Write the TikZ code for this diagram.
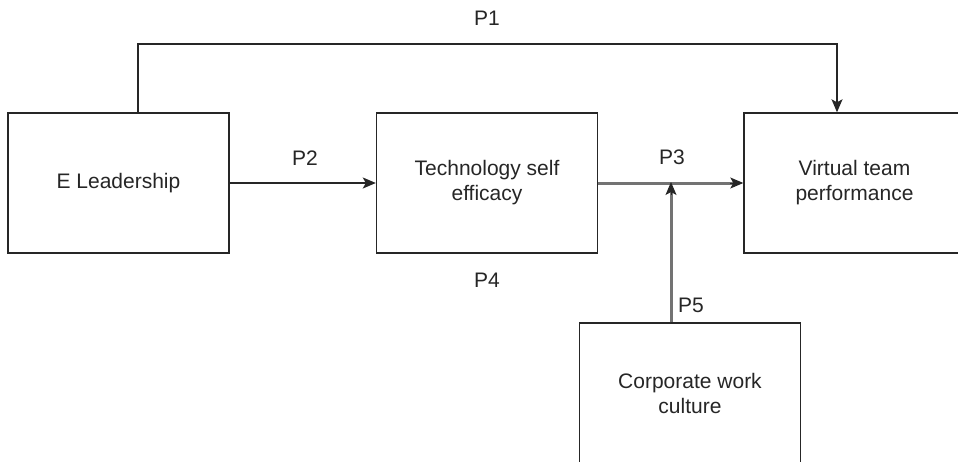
\documentclass[tikz,border=0pt]{standalone}
\usepackage{fontspec}
\setmainfont{Liberation Sans}
\usetikzlibrary{arrows.meta,calc}
\begin{document}
\begin{tikzpicture}[x=1pt,y=-1pt,
  box/.style={draw=black!85,line width=1.4pt,minimum width=221pt,minimum height=140pt,inner sep=0pt,align=center,font=\fontsize{21}{25}\selectfont,text=black!85},
  lbl/.style={font=\fontsize{21}{24}\selectfont,text=black!85},
  blk/.style={draw=black!85,line width=1.4pt},
  gry/.style={draw=black!55,line width=3pt,shorten >=6pt},
  tip/.style={-{Stealth[length=13pt,width=11pt,inset=3pt]}}]
\useasboundingbox (0,0) rectangle (958,461);
\clip (0,0) rectangle (958,461);
\fill[white] (0,0) rectangle (958,461);
\node[box] (el) at (118.5,183) {E Leadership};
\node[box] (tse) at (487,183) {Technology self\\efficacy};
\node[box] (vtp) at (854.5,183) {Virtual team\\performance};
\node[box] (cwc) at (690,393) {Corporate work\\culture};
\coordinate (p1a) at (138,44);
\coordinate (p1b) at (837,44);
\coordinate (p5m) at (671,182);
\draw[blk,tip] (el.north -| p1a) -- (p1a) -- (p1b) -- (vtp.north -| p1b);
\draw[blk,tip] (el.east) -- (tse.west);
\draw[gry] (tse.east) -- (vtp.west);
\draw[blk,line width=1pt,tip] ($(vtp.west)+(-13,0)$) -- (vtp.west);
\draw[gry] (cwc.north -| p5m) -- (p5m);
\draw[blk,line width=1pt,tip] ($(p5m)+(0,13)$) -- (p5m);
\node[lbl] (P1) at (487,18) {P1};
\node[lbl] (P2) at (305,158) {P2};
\node[lbl] (P3) at (672,157) {P3};
\node[lbl] (P4) at (487,280) {P4};
\node[lbl] (P5) at (691,305) {P5};
\end{tikzpicture}
\end{document}
